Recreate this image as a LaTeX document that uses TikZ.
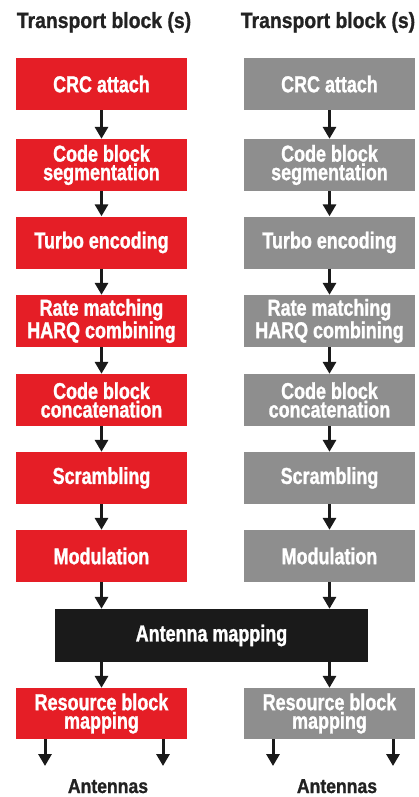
\documentclass[tikz,border=0pt]{standalone}
\usepackage{fontspec}
\setmainfont{Liberation Sans}[FakeStretch=0.78, BoldFeatures={FakeBold=1.2}]
\newfontfamily\ttlfont{Liberation Sans}[FakeStretch=0.88, BoldFeatures={FakeBold=1.0}]
\usetikzlibrary{arrows.meta}
\definecolor{bred}{HTML}{E51E26}
\definecolor{bgray}{HTML}{8E8E8E}
\definecolor{bblack}{HTML}{1A1A1A}
\definecolor{tdark}{HTML}{222222}
\begin{document}
\begin{tikzpicture}[x=1pt,y=-1pt,
  box/.style={minimum width=171pt, minimum height=52pt, inner sep=0pt, align=center, text=white,
    font=\bfseries\fontsize{23}{18.5}\selectfont},
  redbox/.style={box, fill=bred},
  graybox/.style={box, fill=bgray},
  blackbox/.style={box, fill=bblack, minimum width=313pt, minimum height=53pt},
  title/.style={text=tdark, font=\ttlfont\bfseries\fontsize{22}{22}\selectfont, inner sep=0pt, anchor=base},
  label/.style={text=tdark, font=\ttlfont\bfseries\fontsize{20}{20}\selectfont, inner sep=0pt, anchor=base},
  arr/.style={draw=bblack, line width=3pt, -{Triangle[width=13pt,length=12pt]}}
]
\useasboundingbox (0,0) rectangle (418,797);
\fill[white] (0,0) rectangle (418,797);

\node[title] (tl) at (104,28) {Transport block (s)};
\node[title] (tr) at (328,28) {Transport block (s)};

% red column
\node[redbox] (r1) at (101.5,84) {CRC attach};
\node[redbox] (r2) at (101.5,165) {Code block\\segmentation};
\node[redbox] (r3) at (101.5,242.5) {Turbo encoding};
\node[redbox] (r4) at (101.5,321) {Rate matching\\HARQ combining};
\node[redbox] (r5) at (101.5,400) {Code block\\concatenation};
\node[redbox] (r6) at (101.5,478) {Scrambling};
\node[redbox] (r7) at (101.5,556) {Modulation};

% gray column
\node[graybox] (g1) at (329.5,84) {CRC attach};
\node[graybox] (g2) at (329.5,165) {Code block\\segmentation};
\node[graybox] (g3) at (329.5,242.5) {Turbo encoding};
\node[graybox] (g4) at (329.5,321) {Rate matching\\HARQ combining};
\node[graybox] (g5) at (329.5,400) {Code block\\concatenation};
\node[graybox] (g6) at (329.5,478) {Scrambling};
\node[graybox] (g7) at (329.5,556) {Modulation};

\node[blackbox] (am) at (211.5,635.5) {Antenna mapping};

\node[redbox, minimum height=51pt] (rr) at (101.5,713.5) {Resource block\\mapping};
\node[graybox, minimum height=51pt] (gr) at (329.5,713.5) {Resource block\\mapping};

\node[label] (la) at (108,793) {Antennas};
\node[label] (ra) at (337,793) {Antennas};

\coordinate (a1) at (45,766);
\coordinate (a2) at (163,766);
\coordinate (a3) at (273,766);
\coordinate (a4) at (393,766);

\foreach \i/\j in {1/2,2/3,3/4,4/5,5/6,6/7}{
  \draw[arr] (r\i.south) -- (r\j.north);
  \draw[arr] (g\i.south) -- (g\j.north);
}
\draw[arr] (r7.south) -- (r7.south |- am.north);
\draw[arr] (g7.south) -- (g7.south |- am.north);
\draw[arr] (am.south -| rr.north) -- (rr.north);
\draw[arr] (am.south -| gr.north) -- (gr.north);
\draw[arr] (rr.south -| a1) -- (a1);
\draw[arr] (rr.south -| a2) -- (a2);
\draw[arr] (gr.south -| a3) -- (a3);
\draw[arr] (gr.south -| a4) -- (a4);
\end{tikzpicture}
\end{document}
